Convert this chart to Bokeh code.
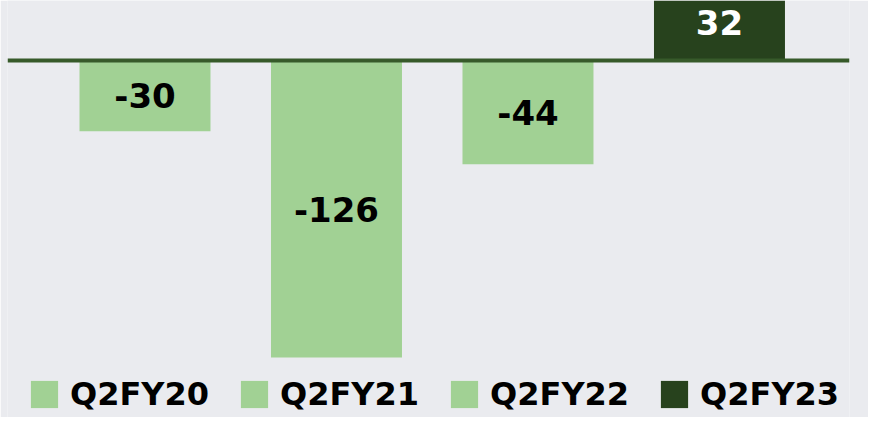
from bokeh.plotting import figure
from bokeh.models import ColumnDataSource, Range1d, Span, Legend, LegendItem
from bokeh.embed import file_html
from bokeh.resources import INLINE
from bokeh.core.properties import value

# ---- data ----
categories = ["Q2FY20", "Q2FY21", "Q2FY22", "Q2FY23"]
values = [-30, -126, -44, 32]
labels = ["-30", "-126", "-44", "32"]
bar_colors = ["#A1D194", "#A1D194", "#A1D194", "#27421D"]
label_colors = ["#000000", "#000000", "#000000", "#FFFFFF"]

BG = "#EAEBEF"
FONT = "DejaVu Sans"

xs = list(range(len(categories)))
src = ColumnDataSource(dict(
    x=xs,
    top=values,
    mid=[v / 2 for v in values],
    label=labels,
    color=bar_colors,
    lcolor=label_colors,
    cat=categories,
))

p = figure(
    width=868, height=417,
    output_backend="svg", toolbar_location=None,
    x_range=Range1d(-0.718, 3.679),
    y_range=Range1d(-151.5, 25.5),
    min_border_left=7, min_border_right=19,
    min_border_top=0, min_border_bottom=0,
    background_fill_color=BG, border_fill_color=BG,
    outline_line_color=None,
)
p.axis.visible = False
p.grid.visible = False

r = p.vbar(x="x", top="top", bottom=0, width=0.684, source=src,
           fill_color="color", line_color=None)

p.text(x="x", y="mid", text="label", source=src,
       text_color="lcolor", text_align="center", text_baseline="middle",
       text_font=value(FONT), text_font_style="bold", text_font_size="34px")

p.add_layout(Span(location=0, dimension="width", line_color="#375A2A", line_width=4))

items = [LegendItem(label=c, renderers=[r], index=i) for i, c in enumerate(categories)]
legend = Legend(
    items=items, orientation="horizontal",
    location=(20, 4),
    glyph_width=34, glyph_height=34, label_standoff=9, spacing=28,
    padding=0, margin=0,
    label_text_font=FONT, label_text_font_style="bold",
    label_text_font_size="32px", label_text_color="#000000",
    background_fill_alpha=0, border_line_color=None,
)
p.add_layout(legend, "center")

open("out.html", "w").write(file_html(p, INLINE))
